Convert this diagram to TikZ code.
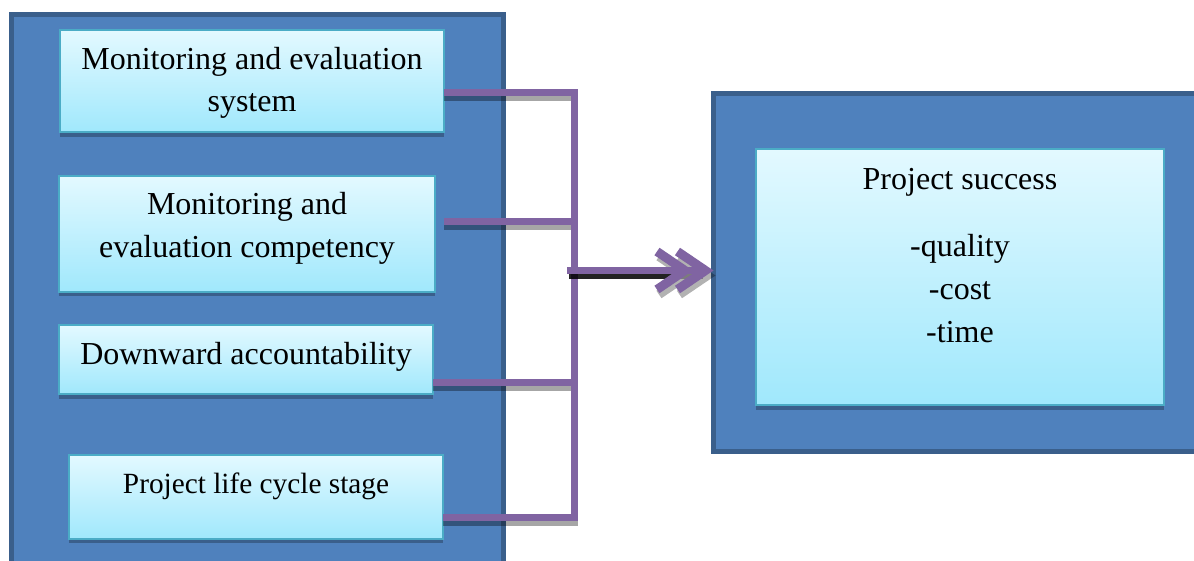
\documentclass[tikz,border=0pt]{standalone}
\usepackage{fontspec}
\setmainfont{Liberation Serif}
\usetikzlibrary{arrows.meta,calc}
\definecolor{outerfill}{HTML}{4F81BD}
\definecolor{outerline}{HTML}{3A5F8B}
\definecolor{innertop}{HTML}{E3F9FF}
\definecolor{innerbot}{HTML}{A0E8FC}
\definecolor{innerline}{HTML}{4BACC6}
\definecolor{purp}{HTML}{8064A2}
\tikzset{
  outerbox/.style={draw=outerline, line width=5pt, fill=outerfill, rectangle, inner sep=0pt, outer sep=0pt},
  innerbox/.style={draw=innerline, line width=2pt, top color=innertop, bottom color=innerbot, rectangle, inner sep=0pt, outer sep=0pt},
  boxshadow/.style={fill=outerline, draw=none},
  txt/.style={anchor=base, inner sep=0pt, font=\fontsize{32}{42}\selectfont},
  smalltxt/.style={anchor=base, inner sep=0pt, font=\fontsize{29.3}{38}\selectfont},
  link/.style={draw=purp, line width=7pt, line cap=butt, line join=miter},
  linkshadow/.style={draw=black, opacity=0.35, line width=7pt, line cap=butt, line join=miter, transform canvas={yshift=-5pt}},
  dblhead/.style={-{Straight Barb[length=28pt,width=38pt,line width=9pt,sharp,sep=-20pt] Straight Barb[length=28pt,width=38pt,line width=9pt,sharp]}},
}
\begin{document}
\begin{tikzpicture}[x=1pt, y=-1pt]
\clip (0,0) rectangle (1194,561);
\useasboundingbox (0,0) rectangle (1194,561);
\fill[white] (0,0) rectangle (1194,561);

% outer boxes
\node[outerbox, minimum width=492pt, minimum height=570pt] (L) at (257.5,299.5) {};
\node[outerbox, minimum width=560pt, minimum height=358pt] (R) at (993.5,272.5) {};

% inner box shadows
\fill[boxshadow] (60,33) rectangle (444,137);
\fill[boxshadow] (59,179) rectangle (435,296);
\fill[boxshadow] (59,328) rectangle (433,399);
\fill[boxshadow] (69,458) rectangle (443,543);
\fill[boxshadow] (756,152) rectangle (1164,410);

% inner boxes
\node[innerbox, minimum width=384pt, minimum height=102pt] (b1) at (252,81.5) {};
\node[innerbox, minimum width=376pt, minimum height=116pt] (b2) at (247,234) {};
\node[innerbox, minimum width=374pt, minimum height=69pt] (b3) at (246,359.5) {};
\node[innerbox, minimum width=374pt, minimum height=84pt] (b4) at (256,497) {};
\node[innerbox, minimum width=408pt, minimum height=256pt] (ps) at (960,277) {};

% texts
\node[txt] (t1a) at (252,70) {Monitoring and evaluation};
\node[txt] (t1b) at (252,112) {system};
\node[txt] (t2a) at (247,215) {Monitoring and};
\node[txt] (t2b) at (247,258) {evaluation competency};
\node[txt] (t3) at (246,364) {Downward accountability};
\node[smalltxt] (t4) at (256,493) {Project life cycle stage};
\node[txt] (t5) at (960,190) {Project success};
\node[txt] (t6) at (960,257) {-quality};
\node[txt] (t7) at (960,300) {-cost};
\node[txt] (t8) at (960,342) {-time};

% junction coordinates
\coordinate (j1) at (574,93);
\coordinate (j2) at (574,222);
\coordinate (j3) at (574,382);
\coordinate (j4) at (574,517);
\coordinate (a0) at (567,270.5);
\coordinate (s1) at ($(b2.east)+(9,0)$);

% link shadows
\draw[linkshadow] (b1.east |- j1) -- (j1) -- (j4) -- (b4.east |- j4);
\draw[linkshadow] (s1 |- j2) -- (j2);
\draw[linkshadow] (b3.east |- j3) -- (j3);
% links
\draw[link] (b1.east |- j1) -- (j1) -- (j4) -- (b4.east |- j4);
\draw[link] (s1 |- j2) -- (j2);
\draw[link] (b3.east |- j3) -- (j3);

% arrow shadow
\draw[draw=black, opacity=0.8, line width=7pt, transform canvas={yshift=-5pt, xshift=2pt}] (a0) -- ($(R.west |- a0)+(-40,0)$);
\draw[draw=black, opacity=0.3, line width=7pt, dblhead, transform canvas={yshift=-5pt, xshift=2pt}] (a0) -- (R.west |- a0);
% arrow
\draw[draw=purp, line width=7pt, dblhead] (a0) -- (R.west |- a0);
\end{tikzpicture}
\end{document}
